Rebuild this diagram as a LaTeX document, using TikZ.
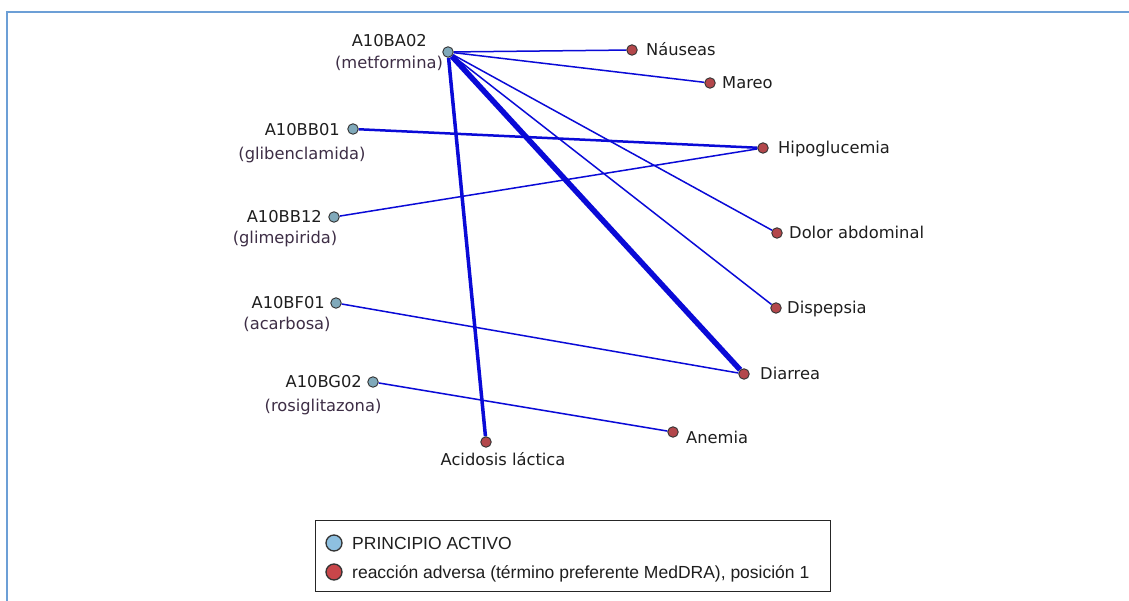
\documentclass[tikz,border=0pt]{standalone}
\usepackage{fontspec}
\setmainfont{DejaVu Sans}
\newfontfamily\legfont{Liberation Sans}
\usetikzlibrary{backgrounds}
\definecolor{framecol}{HTML}{6C9FD6}
\definecolor{edgecol}{RGB}{10,10,215}
\definecolor{drugfill}{HTML}{80A9BA}
\definecolor{reacfill}{HTML}{B3474B}
\definecolor{legblue}{HTML}{8EC0E0}
\definecolor{legred}{HTML}{C8464A}
\definecolor{subcol}{HTML}{3E2E46}
\definecolor{txtcol}{HTML}{1E1E1E}
\tikzset{
  drug/.style={circle, draw=black!80, line width=0.9pt, fill=drugfill, minimum size=10.5pt, inner sep=0pt},
  reac/.style={circle, draw=black!80, line width=0.9pt, fill=reacfill, minimum size=10.5pt, inner sep=0pt},
  lblfont/.style={font=\fontsize{16.3}{19}\selectfont},
  code/.style={anchor=base east, inner sep=0pt, text=txtcol, lblfont},
  subname/.style={anchor=base, inner sep=0pt, text=subcol, lblfont},
  reaclabel/.style={anchor=base west, inner sep=0pt, text=txtcol, lblfont},
  link/.style={draw=edgecol, line width=1.5pt},
  linkmid/.style={draw=edgecol, line width=2.5pt},
  linkbold/.style={draw=edgecol, line width=3.5pt},
  linkheavy/.style={draw=edgecol, line width=5.5pt},
  legdot/.style={circle, draw=black!80, line width=1.3pt, minimum size=16pt, inner sep=0pt},
  legtext/.style={anchor=base west, inner sep=0pt, text=txtcol, font=\legfont\fontsize{17.5}{20}\selectfont},
}
\begin{document}
\begin{tikzpicture}[x=1pt, y=-1pt]
\useasboundingbox (0,0) rectangle (1129,601);
% panel frame
\draw[framecol, line width=2pt] (6.5,601) -- (6.5,12.5) -- (1129,12.5);

% active ingredients
\node[drug] (ba02) at (448,52) {};
\node[drug] (bb01) at (353,129) {};
\node[drug] (bb12) at (334,217) {};
\node[drug] (bf01) at (336,303) {};
\node[drug] (bg02) at (373,382) {};

\node[code] (ba02c) at (427,47) {A10BA02};
\node[subname] (ba02n) at (389,69) {(metformina)};
\node[code] (bb01c) at (340,135.5) {A10BB01};
\node[subname] (bb01n) at (302,160) {(glibenclamida)};
\node[code] (bb12c) at (322,222.5) {A10BB12};
\node[subname] (bb12n) at (285,244) {(glimepirida)};
\node[code] (bf01c) at (325,308.5) {A10BF01};
\node[subname] (bf01n) at (287,330) {(acarbosa)};
\node[code] (bg02c) at (362,387.5) {A10BG02};
\node[subname] (bg02n) at (323,411) {(rosiglitazona)};

% adverse reactions
\node[reac] (nau) at (632,50) {};
\node[reac] (mar) at (710,83) {};
\node[reac] (hip) at (763,148) {};
\node[reac] (dol) at (777,233) {};
\node[reac] (dis) at (776,308) {};
\node[reac] (dia) at (744,374) {};
\node[reac] (ane) at (673,432) {};
\node[reac] (aci) at (486,442) {};

\node[reaclabel] (naul) at (646,55.5) {Náuseas};
\node[reaclabel] (marl) at (722,88.5) {Mareo};
\node[reaclabel] (hipl) at (778,153.5) {Hipoglucemia};
\node[reaclabel] (doll) at (789,238.5) {Dolor abdominal};
\node[reaclabel] (disl) at (787,313.5) {Dispepsia};
\node[reaclabel] (dial) at (760,379.5) {Diarrea};
\node[reaclabel] (anel) at (686,443.5) {Anemia};
\node[anchor=base, inner sep=0pt, text=txtcol, lblfont] (acil) at (503,465) {Acidosis láctica};

% drug -- reaction links, behind the dots
\begin{scope}[on background layer]
\fill[white] (0,0) rectangle (1129,601);
\draw[link] (ba02) -- (nau);
\draw[link] (ba02) -- (mar);
\draw[link] (ba02) -- (dol);
\draw[link] (ba02) -- (dis);
\draw[linkheavy] (ba02) -- (dia);
\draw[linkbold] (ba02) -- (aci);
\draw[linkmid] (bb01) -- (hip);
\draw[link] (bb12) -- (hip);
\draw[link] (bf01) -- (dia);
\draw[link] (bg02) -- (ane);
\end{scope}

% legend
\node[draw=black!85, line width=1.2pt, minimum width=515pt, minimum height=71pt, anchor=north west, inner sep=0pt] (legbox) at (315,520) {};
\node[legdot, fill=legblue] (legd) at (334,543) {};
\node[legdot, fill=legred] (legr) at (334,572) {};
\node[legtext] (legdt) at (352,549.5) {PRINCIPIO ACTIVO};
\node[legtext] (legrt) at (352,578.5) {reacción adversa (término preferente MedDRA), posición 1};
\end{tikzpicture}
\end{document}
